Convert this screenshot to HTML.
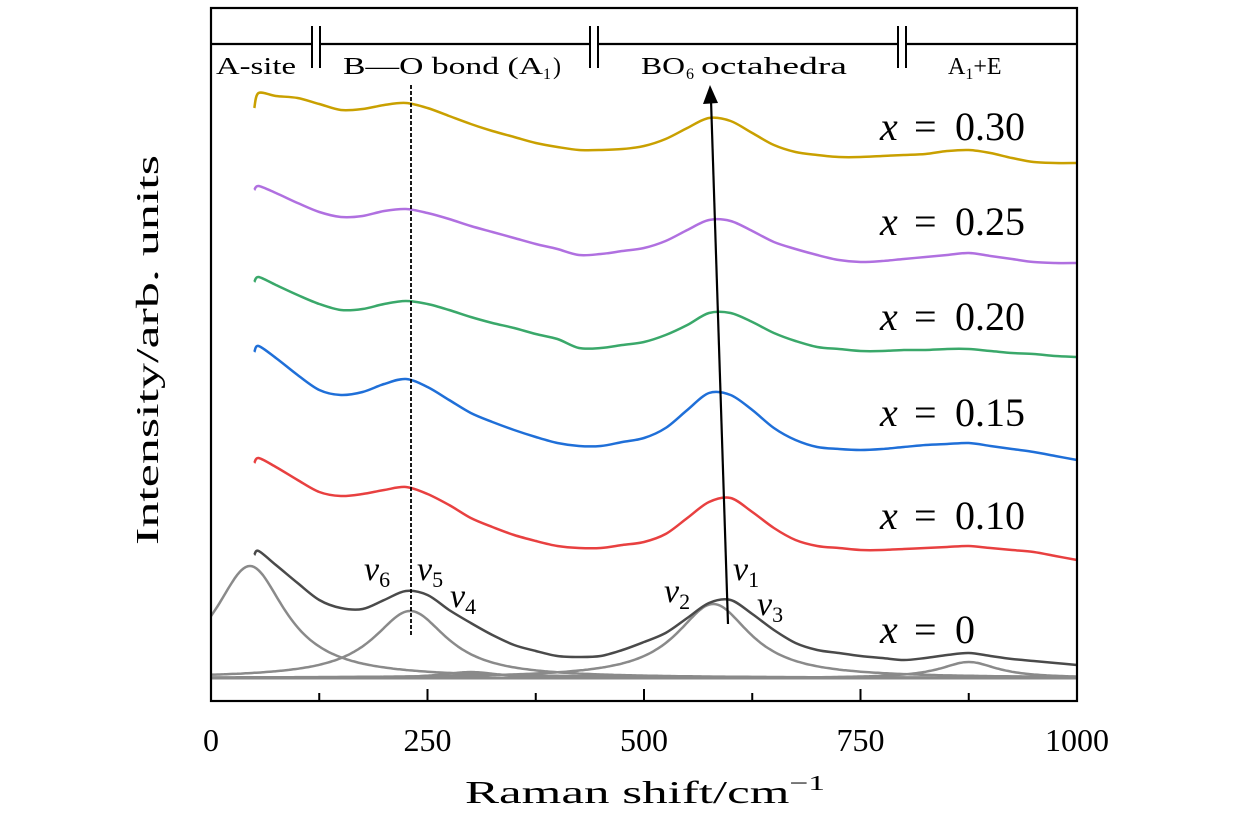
<!DOCTYPE html>
<html><head><meta charset="utf-8"><style>
html,body{margin:0;padding:0;background:#fff;}
svg{display:block;font-family:"Liberation Serif","DejaVu Serif",serif;}
</style></head><body>
<svg id="chart" width="1260" height="819" viewBox="0 0 1260 819" xmlns="http://www.w3.org/2000/svg">
<g id="plot"></g>
<rect x="211" y="8" width="866" height="693" fill="none" stroke="#000" stroke-width="2.2"/>
<g id="axes"></g>
<text x="158" y="350" font-size="32" text-anchor="middle" textLength="390" lengthAdjust="spacingAndGlyphs" transform="rotate(-90 158 350)">Intensity/arb. units</text>
<text x="465" y="803" font-size="32" textLength="360" lengthAdjust="spacingAndGlyphs">Raman shift/cm<tspan dy="-13" font-size="21">−1</tspan></text>
<g>
<path d="M211 44H312 M320 44H590 M598 44H898 M906 44H1077" stroke="#000" stroke-width="2.2" fill="none"/>
<path d="M312 26V68 M320 26V68 M590 26V68 M598 26V68 M898 26V68 M906 26V68" stroke="#000" stroke-width="2" fill="none"/>
</g>
<text x="216" y="74" font-size="24" textLength="80" lengthAdjust="spacingAndGlyphs">A-site</text>
<text x="343" y="74" font-size="24" textLength="200" lengthAdjust="spacingAndGlyphs">B—O bond (A</text>
<text x="543" y="79" font-size="16">1</text>
<text x="553" y="74" font-size="24">)</text>
<text x="641" y="74" font-size="24" textLength="44" lengthAdjust="spacingAndGlyphs">BO</text>
<text x="686" y="79" font-size="16">6</text>
<text x="701" y="74" font-size="24" textLength="146" lengthAdjust="spacingAndGlyphs">octahedra</text>
<text x="948" y="74" font-size="24">A<tspan font-size="16" dy="5">1</tspan><tspan dy="-5">+E</tspan></text>
<line x1="411" y1="85" x2="411" y2="635" stroke="#000" stroke-width="1.8" stroke-dasharray="4,2"/>
<line x1="728" y1="624" x2="711" y2="100" stroke="#000" stroke-width="2.2"/>
<polygon points="710,85 703,104 718,103" fill="#000"/>
<g font-size="34" font-style="italic">
<text x="364" y="580">ν<tspan font-style="normal" font-size="22" dy="7">6</tspan></text>
<text x="417" y="580">ν<tspan font-style="normal" font-size="22" dy="7">5</tspan></text>
<text x="450" y="607">ν<tspan font-style="normal" font-size="22" dy="7">4</tspan></text>
<text x="664" y="602">ν<tspan font-style="normal" font-size="22" dy="7">2</tspan></text>
<text x="733" y="580">ν<tspan font-style="normal" font-size="22" dy="7">1</tspan></text>
<text x="757" y="615">ν<tspan font-style="normal" font-size="22" dy="7">3</tspan></text>
</g>
</svg>
<script>
const shifts = [50,55,75,100,125,150,175,200,225,250,275,300,325,350,375,400,425,450,475,500,525,550,575,600,625,650,675,700,725,750,775,800,825,850,875,900,925,950,975,1000];
const s030 = [589,604,601,599,593,587,588,592,594,589,581,573,566,560,554,550,547,547,548,551,558,569,579,576,564,552,545,542,540,540,541,542,543,546,547,544,539,535,534,534];
const s025 = [507,511,504,494,485,480,481,486,488,484,478,471,465,459,453,448,442,443,446,449,456,467,477,476,466,455,448,442,437,435,436,438,440,442,444,441,438,435,434,434];
const s020 = [415,420,412,402,393,387,388,393,396,393,387,380,374,369,363,358,349,349,352,355,362,372,384,384,375,364,356,350,348,346,346,347,347,348,348,346,344,343,341,340];
const s015 = [345,351,339,322,307,302,305,313,318,310,297,284,275,267,260,254,251,251,255,259,269,287,304,302,287,269,257,250,248,247,248,250,252,253,254,251,248,245,241,237];
const s010 = [234,239,230,217,205,201,203,207,210,203,192,179,170,162,156,151,149,149,152,155,163,179,195,199,185,169,157,151,149,147,147,148,149,150,151,149,147,145,141,137];
const s000 = [142,146,132,114,97,89,88,97,106,102,87,74,62,52,46,41,40,41,47,55,64,79,94,97,83,67,54,47,44,41,39,37,39,42,44,41,38,36,34,32];
const seriesValues = ["0.30","0.25","0.20","0.15","0.10","0"];
const peakCenters = [45,230,300,580,875];
const peakHeights = [112,67,6,74,16];
const peakWidths = [50,52,40,52,40];
const xTicks = [0,250,500,750,1000];
const minorTicks = [125,375,625,875];

const X0=211,X1=1077,YB=697;
const sx = s => X0 + s*(X1-X0)/1000;
const sy = v => YB - v;
const NS="http://www.w3.org/2000/svg";
const plot=document.getElementById('plot'), axes=document.getElementById('axes');
function mk(tag,attrs,parent){const e=document.createElementNS(NS,tag);for(const k in attrs)e.setAttribute(k,attrs[k]);parent.appendChild(e);return e;}
function smooth(pts){let d=`M${pts[0][0].toFixed(1)},${pts[0][1].toFixed(1)}`;for(let i=0;i<pts.length-1;i++){const p0=pts[Math.max(0,i-1)],p1=pts[i],p2=pts[i+1],p3=pts[Math.min(pts.length-1,i+2)];
const t=0.16;
d+=` C${(p1[0]+(p2[0]-p0[0])*t).toFixed(1)},${(p1[1]+(p2[1]-p0[1])*t).toFixed(1)} ${(p2[0]-(p3[0]-p1[0])*t).toFixed(1)},${(p2[1]-(p3[1]-p1[1])*t).toFixed(1)} ${p2[0].toFixed(1)},${p2[1].toFixed(1)}`;}return d;}

const base=19;
for(let k=0;k<peakCenters.length;k++){
  const pts=[];for(let s=0;s<=1000;s+=5){const u=(s-peakCenters[k])/peakWidths[k];pts.push([sx(s),sy(base+peakHeights[k]/(1+u*u))]);}
  const p=mk('path',{d:smooth(pts),fill:'none',stroke:'#8a8a8a','stroke-width':2.5},plot);
  
  
}
const bl=mk('line',{x1:sx(0),y1:sy(base),x2:sx(1000),y2:sy(base),stroke:'#8a8a8a','stroke-width':3},plot);



const series=[s030,s025,s020,s015,s010,s000];
const colors=['#c9a000','#b070e0','#3aa86a','#1f6fd8','#e84040','#4a4a4a'];
const names=['x-0-30','x-0-25','x-0-20','x-0-15','x-0-10','x-0'];
const labelY=[140,235,330,426,529,643];
series.forEach((vals,i)=>{
  const pts=shifts.map((s,j)=>[sx(s),sy(vals[j])]);
  const p=mk('path',{d:smooth(pts),fill:'none',stroke:colors[i],'stroke-width':2.5},plot);
  
  
  const g=mk('g',{'font-size':40},plot);
  
  
  const t1=mk('text',{x:880,y:labelY[i],'font-style':'italic'},g);t1.textContent='x';
  const t2=mk('text',{x:914,y:labelY[i]},g);t2.textContent='=';
  const t3=mk('text',{x:955,y:labelY[i]},g);t3.textContent=seriesValues[i];
});

xTicks.forEach(v=>{
  const l=mk('line',{x1:sx(v),y1:701,x2:sx(v),y2:689,stroke:'#000','stroke-width':2},axes);
  
  
  const t=mk('text',{x:sx(v),y:751,'font-size':32,'text-anchor':'middle'},axes);
  t.textContent=v;
  
  
});
minorTicks.forEach(v=>{
  const l=mk('line',{x1:sx(v),y1:701,x2:sx(v),y2:693,stroke:'#000','stroke-width':2},axes);
  
  
});
</script>
</body></html>
